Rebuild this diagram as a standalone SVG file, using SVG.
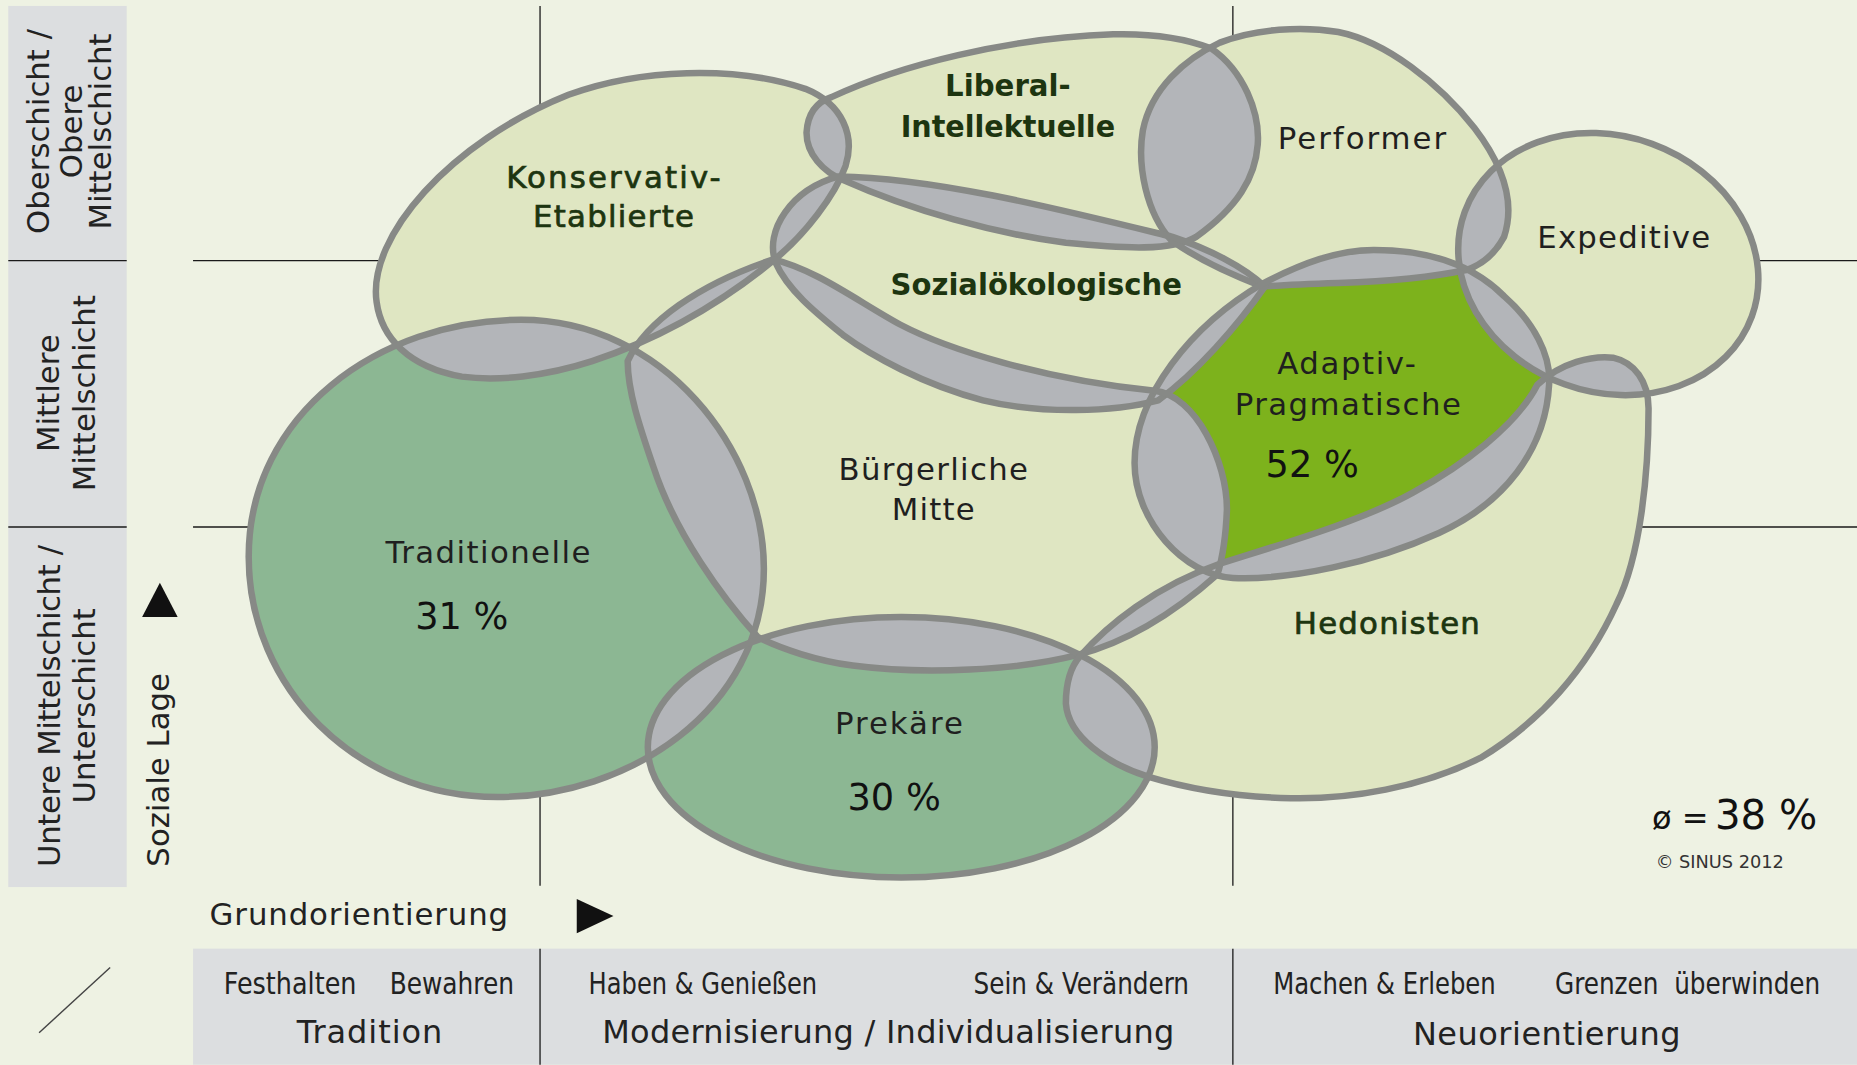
<svg xmlns="http://www.w3.org/2000/svg" xmlns:xlink="http://www.w3.org/1999/xlink" width="1857" height="1065" viewBox="0 0 1857 1065">
<style>
.bg{fill:#eef2e3}
.panel{fill:#dcdee0}
.grid{stroke:#1a1a1a;stroke-width:1.1;fill:none}
.f-l{fill:#dfe6c2}
.f-m{fill:#8cb793}
.f-a{fill:#7db21c}
.ov{fill:#b3b5b9}
.ol{fill:none;stroke:#878986;stroke-width:5.5}
text{font-family:"DejaVu Sans","Liberation Sans",sans-serif}
.t{font-size:26px;fill:#1f1f1f;text-anchor:middle}
.tg{fill:#1d3510;stroke:#1d3510;stroke-width:0.6}
.tb{font-weight:bold;fill:#1d3510}
.pc{font-size:31px;fill:#111;text-anchor:middle}
.ax{font-size:26px;fill:#222;text-anchor:middle}
.bt{font-family:"DejaVu Sans Condensed","DejaVu Sans",sans-serif;font-size:25px;fill:#222;text-anchor:middle}
.bt2{font-size:27px;fill:#222;text-anchor:middle}
.tri{fill:#111}
</style>
<defs>
<path id="s-ke" d="M 318,255 C 310,200 380,120 480,80 C 540,58 620,55 680,75 C 712,88 722,115 714,140 C 705,165 680,198 653,220 C 610,255 560,285 500,305 C 460,318 420,322 390,318 C 345,310 322,285 318,255 Z"/>
<path id="s-li" d="M 681,112 C 682,95 690,86 702,82 C 760,55 850,32 940,29 C 980,28 1005,34 1023,41 C 1050,60 1064,95 1062,122 C 1060,150 1045,175 1010,200 C 990,212 950,210 900,205 C 840,197 770,178 712,152 C 695,145 681,130 681,112 Z"/>
<path id="s-pe" d="M 989,203 C 968,180 960,140 965,110 C 972,75 1000,50 1030,36 C 1060,24 1100,22 1130,27 C 1170,35 1215,70 1245,108 C 1268,138 1280,170 1270,200 C 1262,215 1250,224 1238,228 C 1200,236 1160,238 1130,239 C 1100,240 1080,241 1066,242 C 1040,232 1010,218 989,203 Z"/>
<ellipse id="s-ex" cx="1358" cy="223" rx="129" ry="108" transform="rotate(20 1358 223)"/>
<path id="s-so" d="M 655,222 C 645,195 668,160 708,149 C 790,150 900,178 990,200 C 1020,210 1050,225 1068,242 C 1045,275 1010,315 978,338 C 940,348 880,350 830,338 C 780,325 735,300 712,283 C 690,265 665,245 655,222 Z"/>
<path id="s-ap" d="M 958,391 C 958,335 1005,275 1067,239 C 1100,222 1130,211 1160,211 C 1200,211 1240,220 1270,250 C 1295,272 1310,300 1308,325 C 1305,380 1270,425 1215,450 C 1160,475 1090,490 1041,488 C 1000,486 958,440 958,391 Z"/>
<path id="s-bm" d="M 530,305 C 545,272 590,240 653,219 C 690,228 725,255 760,274 C 800,295 880,320 975,330 C 1010,334 1036,390 1036,430 C 1035,455 1032,472 1028,485 C 1000,510 960,540 910,553 C 860,566 780,570 720,562 C 690,558 660,548 640,538 C 610,505 570,450 552,395 C 540,360 530,330 530,305 Z"/>
<path id="s-tr" d="M 440,270 C 560,270 645,380 645,480 C 645,600 530,673 420,673 C 300,673 210,580 210,470 C 210,350 320,270 440,270 Z"/>
<ellipse id="s-pr" cx="761" cy="631" rx="214" ry="110"/>
<path id="s-he" d="M 900,594 C 900,575 905,562 912,554 C 935,528 975,495 1030,476 C 1080,460 1150,440 1193,416 C 1235,393 1280,360 1298,325 C 1318,306 1345,300 1362,302 C 1380,306 1392,322 1392,345 C 1392,400 1385,470 1365,510 C 1340,565 1300,610 1250,640 C 1200,665 1140,675 1090,674 C 1040,673 1000,665 970,656 C 935,645 902,622 900,594 Z"/>
<clipPath id="c-ke"><use xlink:href="#s-ke"/></clipPath>
<clipPath id="c-li"><use xlink:href="#s-li"/></clipPath>
<clipPath id="c-pe"><use xlink:href="#s-pe"/></clipPath>
<clipPath id="c-ex"><use xlink:href="#s-ex"/></clipPath>
<clipPath id="c-so"><use xlink:href="#s-so"/></clipPath>
<clipPath id="c-ap"><use xlink:href="#s-ap"/></clipPath>
<clipPath id="c-bm"><use xlink:href="#s-bm"/></clipPath>
<clipPath id="c-tr"><use xlink:href="#s-tr"/></clipPath>
<clipPath id="c-pr"><use xlink:href="#s-pr"/></clipPath>
</defs>
<rect class="bg" x="0" y="0" width="1857" height="1065"/>
<g transform="scale(1.18431)">
<g id="axes">
<rect class="panel" x="7" y="5" width="100" height="744"/>
<rect class="panel" x="163" y="801" width="1405" height="98"/>
<line class="grid" x1="7" y1="220" x2="107" y2="220"/>
<line class="grid" x1="7" y1="445" x2="107" y2="445"/>
<line class="grid" x1="163" y1="220" x2="1568" y2="220"/>
<line class="grid" x1="163" y1="445" x2="1568" y2="445"/>
<line class="grid" x1="456" y1="5" x2="456" y2="748"/>
<line class="grid" x1="1041" y1="5" x2="1041" y2="748"/>
<line class="grid" x1="456" y1="801" x2="456" y2="899"/>
<line class="grid" x1="1041" y1="801" x2="1041" y2="899"/>
<line x1="33" y1="872" x2="93" y2="817" stroke="#444" stroke-width="1.2"/>
<polygon class="tri" points="135,492 150,521 120,521"/>
<polygon class="tri" points="487,759 518,773.5 487,788"/>
<text class="ax" transform="translate(41,111) rotate(-90)">Oberschicht /</text>
<text class="ax" transform="translate(69,111) rotate(-90)">Obere</text>
<text class="ax" transform="translate(94,111) rotate(-90)">Mittelschicht</text>
<text class="ax" transform="translate(50,332) rotate(-90)">Mittlere</text>
<text class="ax" transform="translate(80,332) rotate(-90)">Mittelschicht</text>
<text class="ax" transform="translate(51,596) rotate(-90)" textLength="272">Untere Mittelschicht /</text>
<text class="ax" transform="translate(80,596) rotate(-90)">Unterschicht</text>
<text class="ax" transform="translate(143,650) rotate(-90)">Soziale Lage</text>
<text class="ax" x="177" y="781" style="text-anchor:start" textLength="252">Grundorientierung</text>
<text class="bt" x="245" y="839" textLength="112" lengthAdjust="spacingAndGlyphs">Festhalten</text>
<text class="bt" x="381.5" y="839" textLength="105" lengthAdjust="spacingAndGlyphs">Bewahren</text>
<text class="bt" x="593.5" y="839" textLength="193" lengthAdjust="spacingAndGlyphs">Haben &amp; Genießen</text>
<text class="bt" x="913" y="839" textLength="182" lengthAdjust="spacingAndGlyphs">Sein &amp; Verändern</text>
<text class="bt" x="1169" y="839" textLength="188" lengthAdjust="spacingAndGlyphs">Machen &amp; Erleben</text>
<text class="bt" x="1425" y="839" textLength="224" lengthAdjust="spacingAndGlyphs" xml:space="preserve">Grenzen  überwinden</text>
<text class="bt2" x="312" y="881" textLength="123">Tradition</text>
<text class="bt2" x="750" y="881" textLength="483">Modernisierung / Individualisierung</text>
<text class="bt2" x="1306" y="882" textLength="226">Neuorientierung</text>
<text x="1395" y="700" fill="#111"><tspan font-size="27">ø =</tspan><tspan font-size="34" x="1448">38 %</tspan></text>
<text x="1398" y="733" font-size="15" fill="#333">© SINUS 2012</text>
</g>
<g id="milieus">
<g id="node-konservativ-etablierte"><use xlink:href="#s-ke" class="f-l"/><text class="t tg" x="518" y="159" font-size="27" textLength="181">Konservativ-</text><text class="t tg" x="518" y="192" font-size="27" textLength="136">Etablierte</text></g>
<g id="node-liberal-intellektuelle"><use xlink:href="#s-li" class="f-l"/><text class="t tb" x="851" y="81" font-size="24" textLength="106" lengthAdjust="spacingAndGlyphs">Liberal-</text><text class="t tb" x="851" y="116" font-size="24" textLength="181" lengthAdjust="spacingAndGlyphs">Intellektuelle</text></g>
<g id="node-performer"><use xlink:href="#s-pe" class="f-l"/><text class="t" x="1150" y="126" textLength="142">Performer</text></g>
<g id="node-expeditive"><use xlink:href="#s-ex" class="f-l"/><text class="t" x="1371" y="209" textLength="146">Expeditive</text></g>
<g id="node-sozialoekologische"><use xlink:href="#s-so" class="f-l"/><text class="t tb" x="875" y="249" font-size="25" textLength="246" lengthAdjust="spacingAndGlyphs">Sozialökologische</text></g>
<g id="node-buergerliche-mitte"><use xlink:href="#s-bm" class="f-l"/><text class="t" x="788" y="405" textLength="160">Bürgerliche</text><text class="t" x="788" y="439" textLength="70">Mitte</text></g>
<g id="node-traditionelle"><use xlink:href="#s-tr" class="f-m"/><text class="t" x="412" y="475" textLength="173">Traditionelle</text><text class="pc" x="390" y="531">31 %</text></g>
<g id="node-prekaere"><use xlink:href="#s-pr" class="f-m"/><text class="t" x="759" y="620" textLength="108">Prekäre</text><text class="pc" x="755" y="684">30 %</text></g>
<g id="node-hedonisten"><use xlink:href="#s-he" class="f-l"/><text class="t tg" x="1171" y="535" textLength="157">Hedonisten</text></g>
<g id="node-adaptiv-pragmatische"><use xlink:href="#s-ap" class="f-a"/><text class="t" x="1137" y="316" textLength="117">Adaptiv-</text><text class="t" x="1138" y="350" textLength="191">Pragmatische</text><text class="pc" x="1108" y="403">52 %</text></g>
</g>
<g id="overlaps" class="ov">
<use xlink:href="#s-li" clip-path="url(#c-ke)"/>
<use xlink:href="#s-so" clip-path="url(#c-ke)"/>
<use xlink:href="#s-bm" clip-path="url(#c-ke)"/>
<use xlink:href="#s-tr" clip-path="url(#c-ke)"/>
<use xlink:href="#s-so" clip-path="url(#c-li)"/>
<use xlink:href="#s-pe" clip-path="url(#c-li)"/>
<use xlink:href="#s-so" clip-path="url(#c-pe)"/>
<use xlink:href="#s-ap" clip-path="url(#c-pe)"/>
<use xlink:href="#s-ex" clip-path="url(#c-pe)"/>
<use xlink:href="#s-ap" clip-path="url(#c-ex)"/>
<use xlink:href="#s-he" clip-path="url(#c-ex)"/>
<use xlink:href="#s-so" clip-path="url(#c-ap)"/>
<use xlink:href="#s-bm" clip-path="url(#c-ap)"/>
<use xlink:href="#s-he" clip-path="url(#c-ap)"/>
<use xlink:href="#s-so" clip-path="url(#c-bm)"/>
<use xlink:href="#s-tr" clip-path="url(#c-bm)"/>
<use xlink:href="#s-pr" clip-path="url(#c-bm)"/>
<use xlink:href="#s-he" clip-path="url(#c-bm)"/>
<use xlink:href="#s-pr" clip-path="url(#c-tr)"/>
<use xlink:href="#s-he" clip-path="url(#c-pr)"/>
</g>
<g id="outlines" class="ol">
<use xlink:href="#s-ke"/>
<use xlink:href="#s-li"/>
<use xlink:href="#s-pe"/>
<use xlink:href="#s-ex"/>
<use xlink:href="#s-so"/>
<use xlink:href="#s-ap"/>
<use xlink:href="#s-bm"/>
<use xlink:href="#s-tr"/>
<use xlink:href="#s-pr"/>
<use xlink:href="#s-he"/>
</g>
</g>
</svg>
